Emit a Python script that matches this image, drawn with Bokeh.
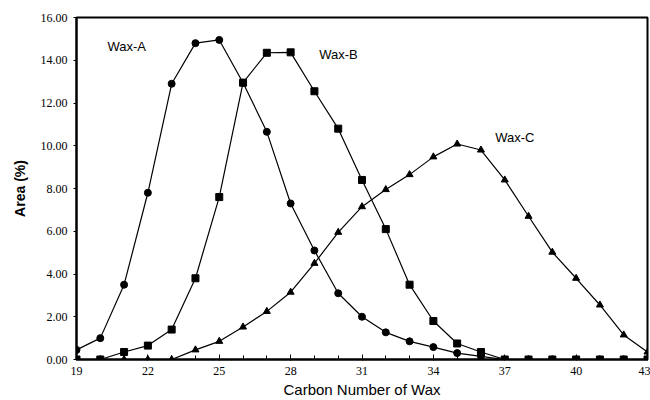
from bokeh.plotting import figure
from bokeh.models import Range1d, FixedTicker, PrintfTickFormatter, Label
from bokeh.embed import file_html
from bokeh.resources import INLINE

carbon = list(range(19, 44))
wax_a = [0.45, 1.0, 3.5, 7.8, 12.9, 14.8, 14.95, 12.95, 10.65, 7.3, 5.1, 3.1, 2.0, 1.27, 0.85, 0.58, 0.3, 0.15,
         0, 0, 0, 0, 0, 0, 0]
wax_b = [0, 0, 0.35, 0.65, 1.4, 3.8, 7.6, 12.95, 14.35, 14.37, 12.55, 10.8, 8.4, 6.1, 3.5, 1.8, 0.75, 0.35,
         0, 0, 0, 0, 0, 0, 0]
wax_c = [0, 0, 0, 0, 0, 0.45, 0.85, 1.52, 2.25, 3.15, 4.5, 5.95, 7.15, 7.95, 8.65, 9.48, 10.08, 9.8,
         8.4, 6.7, 5.02, 3.8, 2.55, 1.15, 0.35]
x_major = [19, 22, 25, 28, 31, 34, 37, 40, 43]
y_major = [0, 2, 4, 6, 8, 10, 12, 14, 16]
names = ["Wax-A", "Wax-B", "Wax-C"]
name_pos = [(20.3, 14.65), (29.2, 14.28), (36.6, 10.37)]
x_title = "Carbon Number of Wax"
y_title = "Area (%)"

p = figure(width=650, height=400, output_backend="svg", toolbar_location=None,
           x_range=Range1d(19, 43), y_range=Range1d(0, 16),
           min_border_left=76, min_border_right=3, min_border_top=17, min_border_bottom=39)
p.background_fill_color = "white"
p.border_fill_color = "white"
p.grid.visible = False
p.outline_line_color = "black"
p.outline_line_width = 2

p.xaxis.ticker = FixedTicker(ticks=x_major, minor_ticks=carbon)
p.yaxis.ticker = FixedTicker(ticks=y_major)
p.yaxis.formatter = PrintfTickFormatter(format="%.2f")
for ax in (p.xaxis, p.yaxis):
    ax.axis_line_width = 2
    ax.axis_line_color = "black"
    ax.major_tick_line_color = "black"
    ax.minor_tick_line_color = "black"
    ax.major_label_text_font = "Liberation Serif, serif"
    ax.major_label_text_font_size = "12px"
    ax.major_label_text_color = "black"
    ax.axis_label_text_font = "Liberation Sans"
    ax.axis_label_text_color = "black"
p.xaxis.major_tick_in = 5
p.xaxis.major_tick_out = 1
p.xaxis.minor_tick_in = 4
p.xaxis.minor_tick_out = 0
p.xaxis.major_label_standoff = 6
p.xaxis.axis_label = x_title
p.xaxis.axis_label_text_font_size = "15px"
p.xaxis.axis_label_text_font_style = "normal"
p.xaxis.axis_label_standoff = 3
p.yaxis.major_tick_in = 0
p.yaxis.major_tick_out = 3
p.yaxis.minor_tick_line_color = None
p.yaxis.major_label_standoff = 6
p.yaxis.axis_label = y_title
p.yaxis.axis_label_text_font_size = "14px"
p.yaxis.axis_label_text_font_style = "bold"
p.yaxis.axis_label_standoff = 10

p.line(carbon, wax_a, line_color="black", line_width=1.2)
p.scatter(carbon, wax_a, marker="circle", size=7, fill_color="black", line_color="black")
p.line(carbon, wax_b, line_color="black", line_width=1.2)
p.scatter(carbon, wax_b, marker="square", size=7, fill_color="black", line_color="black")
p.line(carbon, wax_c, line_color="black", line_width=1.2)
p.scatter(carbon, wax_c, marker="triangle", size=7, fill_color="black", line_color="black")

for n, (lx, ly) in zip(names, name_pos):
    p.add_layout(Label(x=lx, y=ly, text=n, text_font="Liberation Sans", text_font_size="13px",
                       text_color="black", text_baseline="middle"))

open("out.html", "w").write(file_html(p, INLINE))
